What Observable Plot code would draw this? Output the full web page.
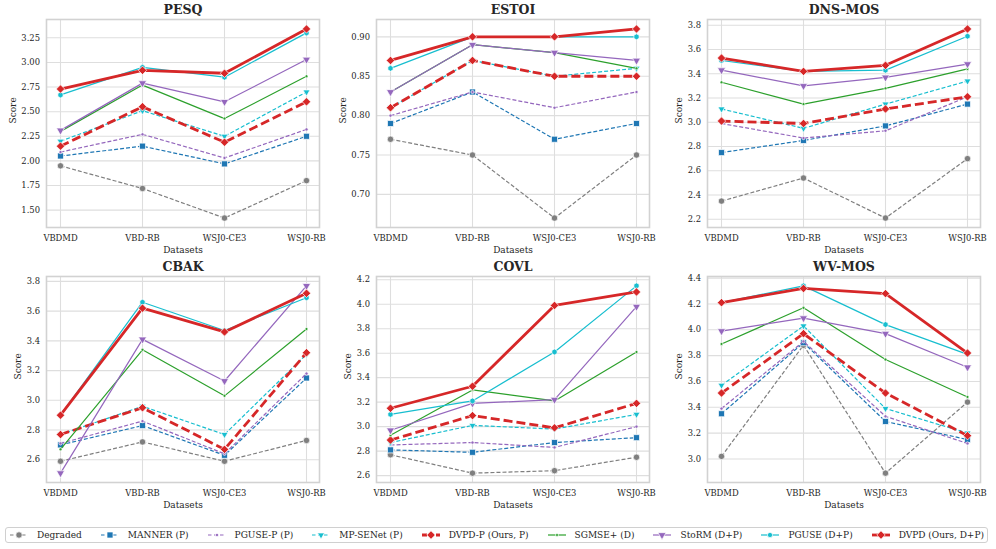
<!DOCTYPE html>
<html>
<head>
<meta charset="utf-8">
<script src="https://cdn.jsdelivr.net/npm/d3@7"></script>
<script src="https://cdn.jsdelivr.net/npm/@observablehq/plot@0.6"></script>
<style>
  html, body { margin: 0; padding: 0; background: #fff; }
  #root { position: relative; width: 996px; height: 549px; overflow: hidden; background: #fff; font-family: "DejaVu Serif", serif; }
  .panel { position: absolute; }
  #legend { position: absolute; left: 5px; top: 527px; width: 983px; height: 16px; border: 1px solid #d0d0d0; border-radius: 3px;
            display: flex; align-items: center; justify-content: space-between; padding: 0 3px 0 4px; box-sizing: border-box;
            font-family: "DejaVu Serif", serif; font-size: 9px; color: #262626; background: #fff; }
  .item { display: flex; align-items: center; white-space: nowrap; }
  .item svg { margin-right: 9px; }
</style>
</head>
<body>
<div id="root"><div id="legend"></div></div>
<script>
// ---------------- data ----------------
const datasets = ["VBDMD", "VBD-RB", "WSJ0-CE3", "WSJ0-RB"];
const methods = ["Degraded", "MANNER (P)", "PGUSE-P (P)", "MP-SENet (P)", "DVPD-P (Ours, P)",
                 "SGMSE+ (D)", "StoRM (D+P)", "PGUSE (D+P)", "DVPD (Ours, D+P)"];
const metrics = ["PESQ", "ESTOI", "DNS-MOS", "CBAK", "COVL", "WV-MOS"];

// values: one row per method (in `methods` order), one column per dataset
const pesq = [
  [1.95, 1.72, 1.42, 1.80],
  [2.05, 2.15, 1.97, 2.25],
  [2.09, 2.27, 2.03, 2.32],
  [2.20, 2.51, 2.25, 2.70],
  [2.15, 2.55, 2.19, 2.60],
  [2.30, 2.77, 2.43, 2.86],
  [2.31, 2.79, 2.60, 3.03],
  [2.67, 2.95, 2.85, 3.30],
  [2.73, 2.92, 2.89, 3.34]
];
const estoi = [
  [0.77, 0.75, 0.67, 0.75],
  [0.79, 0.83, 0.77, 0.79],
  [0.80, 0.83, 0.81, 0.83],
  [0.81, 0.87, 0.85, 0.86],
  [0.81, 0.87, 0.85, 0.85],
  [0.83, 0.89, 0.88, 0.86],
  [0.83, 0.89, 0.88, 0.87],
  [0.86, 0.90, 0.90, 0.90],
  [0.87, 0.90, 0.90, 0.91]
];
const dnsmos = [
  [2.35, 2.54, 2.21, 2.70],
  [2.75, 2.85, 2.97, 3.15],
  [2.99, 2.87, 2.93, 3.21],
  [3.11, 2.95, 3.15, 3.34],
  [3.01, 2.99, 3.11, 3.21],
  [3.33, 3.15, 3.28, 3.44],
  [3.43, 3.30, 3.37, 3.48],
  [3.51, 3.42, 3.43, 3.71],
  [3.53, 3.42, 3.47, 3.77]
];
const cbak = [
  [2.59, 2.72, 2.59, 2.73],
  [2.70, 2.83, 2.63, 3.15],
  [2.71, 2.86, 2.64, 3.18],
  [2.77, 2.96, 2.77, 3.31],
  [2.77, 2.95, 2.67, 3.32],
  [2.67, 3.34, 3.03, 3.48],
  [2.51, 3.41, 3.13, 3.77],
  [2.90, 3.66, 3.47, 3.69],
  [2.90, 3.62, 3.46, 3.72]
];
const covl = [
  [2.77, 2.62, 2.64, 2.75],
  [2.81, 2.79, 2.87, 2.91],
  [2.85, 2.87, 2.83, 3.00],
  [2.87, 3.01, 2.98, 3.10],
  [2.89, 3.09, 2.99, 3.19],
  [2.93, 3.30, 3.21, 3.61],
  [2.97, 3.19, 3.22, 3.98],
  [3.10, 3.21, 3.61, 4.15],
  [3.15, 3.33, 3.99, 4.10]
];
const wvmos = [
  [3.02, 3.88, 2.89, 3.44],
  [3.35, 3.90, 3.29, 3.15],
  [3.39, 3.91, 3.33, 3.12],
  [3.57, 4.03, 3.39, 3.20],
  [3.51, 3.97, 3.51, 3.18],
  [3.89, 4.17, 3.77, 3.48],
  [3.99, 4.09, 3.97, 3.71],
  [4.21, 4.34, 4.04, 3.81],
  [4.21, 4.32, 4.28, 3.82]
];

// y tick values per metric
const pesqTicks = [1.50, 1.75, 2.00, 2.25, 2.50, 2.75, 3.00, 3.25];
const estoiTicks = [0.70, 0.75, 0.80, 0.85, 0.90];
const dnsmosTicks = [2.2, 2.4, 2.6, 2.8, 3.0, 3.2, 3.4, 3.6, 3.8];
const cbakTicks = [2.6, 2.8, 3.0, 3.2, 3.4, 3.6, 3.8];
const covlTicks = [2.6, 2.8, 3.0, 3.2, 3.4, 3.6, 3.8, 4.0, 4.2];
const wvmosTicks = [3.0, 3.2, 3.4, 3.6, 3.8, 4.0, 4.2, 4.4];
const tickDecimals = [2, 2, 1, 1, 1, 1];

const metricValues = [pesq, estoi, dnsmos, cbak, covl, wvmos];
const metricTicks = [pesqTicks, estoiTicks, dnsmosTicks, cbakTicks, covlTicks, wvmosTicks];

// ---------------- styles ----------------
const sqrt3 = Math.sqrt(3);
const triangleDown = {
  draw(context, size) {
    const y = -Math.sqrt(size / (sqrt3 * 3));
    context.moveTo(0, -y * 2);
    context.lineTo(-sqrt3 * y, y);
    context.lineTo(sqrt3 * y, y);
    context.closePath();
  }
};
const styles = [
  {color: "#7f7f7f", width: 1.2, dash: "4,2", symbol: "circle", r: 3.2},
  {color: "#1f77b4", width: 1.2, dash: "4,2", symbol: "square", r: 3.4},
  {color: "#9467bd", width: 1.2, dash: "4,2", symbol: "circle", r: 1.6},
  {color: "#17becf", width: 1.2, dash: "4,2", symbol: triangleDown, r: 2.6},
  {color: "#d62728", width: 2.8, dash: "9,4", symbol: "diamond2", r: 3.8},
  {color: "#2ca02c", width: 1.2, dash: null, symbol: "circle", r: 1.5},
  {color: "#9467bd", width: 1.2, dash: null, symbol: triangleDown, r: 3.0},
  {color: "#17becf", width: 1.2, dash: null, symbol: "hexagon", r: 2.6},
  {color: "#d62728", width: 2.8, dash: null, symbol: "diamond2", r: 3.8}
];

// ---------------- panels ----------------
const root = document.getElementById("root");
const colX = [0, 330, 661];
const rowY = [0, 257];
const charW = 0.636, dotW = 0.318, tickFont = 8.4;

metrics.forEach((metric, k) => {
  const vals = metricValues[k];
  const rows = [];
  vals.forEach((series, i) => series.forEach((v, j) => rows.push({method: methods[i], mi: i, dataset: datasets[j], value: v})));
  const [lo, hi] = d3.extent(rows, d => d.value);
  const pad = (hi - lo) * 0.05;
  const dec = tickDecimals[k];
  const fmt = d => d.toFixed(dec);
  const labelW = (charW * (1 + dec) + dotW) * tickFont;
  const labelOffset = 6.5 + labelW + 8.5;
  const row = Math.floor(k / 3), col = k % 3;

  const marks = [
    Plot.gridX(datasets, {x: d => d, stroke: "#dedede", strokeOpacity: 1, strokeWidth: 1.1}),
    Plot.gridY(metricTicks[k], {y: d => d, stroke: "#dedede", strokeOpacity: 1, strokeWidth: 1.1}),
    Plot.frame({stroke: "#d2d2d2", strokeWidth: 1.6}),
    Plot.axisX({tickSize: 0, tickPadding: 8, label: null, fontSize: tickFont}),
    Plot.axisY(metricTicks[k], {tickSize: 0, tickPadding: 6.5, label: null, tickFormat: fmt, fontSize: tickFont}),
  ];
  methods.forEach((m, i) => {
    const s = styles[i];
    const data = rows.filter(d => d.mi === i);
    marks.push(Plot.line(data, {x: "dataset", y: "value", stroke: s.color, strokeWidth: s.width,
      strokeDasharray: s.dash || undefined, strokeLinecap: "butt"}));
    marks.push(Plot.dot(data, {x: "dataset", y: "value", symbol: s.symbol, r: s.r, fill: s.color,
      stroke: "white", strokeWidth: 0.7}));
  });
  marks.push(Plot.text([metric], {text: d => d, frameAnchor: "top", dy: -9.5, lineAnchor: "middle",
    fontWeight: "bold", fontSize: 12.5, fill: "#262626"}));
  marks.push(Plot.text(["Datasets"], {text: d => d, frameAnchor: "bottom", dy: 22.5, lineAnchor: "middle",
    fontSize: 9, fill: "#262626"}));
  marks.push(Plot.text(["Score"], {text: d => d, frameAnchor: "left", dx: -labelOffset, rotate: -90,
    lineAnchor: "middle", fontSize: 9, fill: "#262626"}));

  const chart = Plot.plot({
    width: 330,
    height: 250,
    marginLeft: 46,
    marginRight: 11,
    marginTop: 19,
    marginBottom: row === 0 ? 23 : 25,
    x: {type: "point", domain: datasets, padding: 0.15},
    y: {domain: [lo - pad, hi + pad]},
    style: {fontFamily: "DejaVu Serif", fontSize: "8.4px", color: "#262626", background: "white", overflow: "visible"},
    marks
  });
  const div = document.createElement("div");
  div.className = "panel";
  div.style.left = colX[col] + "px";
  div.style.top = rowY[row] + "px";
  div.appendChild(chart);
  root.appendChild(div);
});

// ---------------- legend ----------------
const legend = document.getElementById("legend");
methods.forEach((m, i) => {
  const s = styles[i];
  const item = document.createElement("div");
  item.className = "item";
  const ns = "http://www.w3.org/2000/svg";
  const svg = document.createElementNS(ns, "svg");
  svg.setAttribute("width", 18); svg.setAttribute("height", 10);
  const line = document.createElementNS(ns, "line");
  line.setAttribute("x1", 0); line.setAttribute("x2", 18); line.setAttribute("y1", 5); line.setAttribute("y2", 5);
  line.setAttribute("stroke", s.color); line.setAttribute("stroke-width", s.width);
  if (s.dash) line.setAttribute("stroke-dasharray", s.width > 2 ? "5,2" : "3.5,2.5");
  svg.appendChild(line);
  const sym = typeof s.symbol === "string" ? Plot.symbol ? null : null : null;
  const path = document.createElementNS(ns, "path");
  const symType = typeof s.symbol === "string"
    ? ({circle: d3.symbolCircle, square: d3.symbolSquare, diamond2: d3.symbolDiamond2, hexagon: d3.symbolHexagon})[s.symbol]
    : s.symbol;
  path.setAttribute("d", d3.symbol(symType, Math.PI * s.r * s.r)());
  path.setAttribute("transform", "translate(9,5)");
  path.setAttribute("fill", s.color); path.setAttribute("stroke", "white"); path.setAttribute("stroke-width", 0.7);
  svg.appendChild(path);
  item.appendChild(svg);
  const span = document.createElement("span");
  span.textContent = m;
  item.appendChild(span);
  legend.appendChild(item);
});
</script>
</body>
</html>
